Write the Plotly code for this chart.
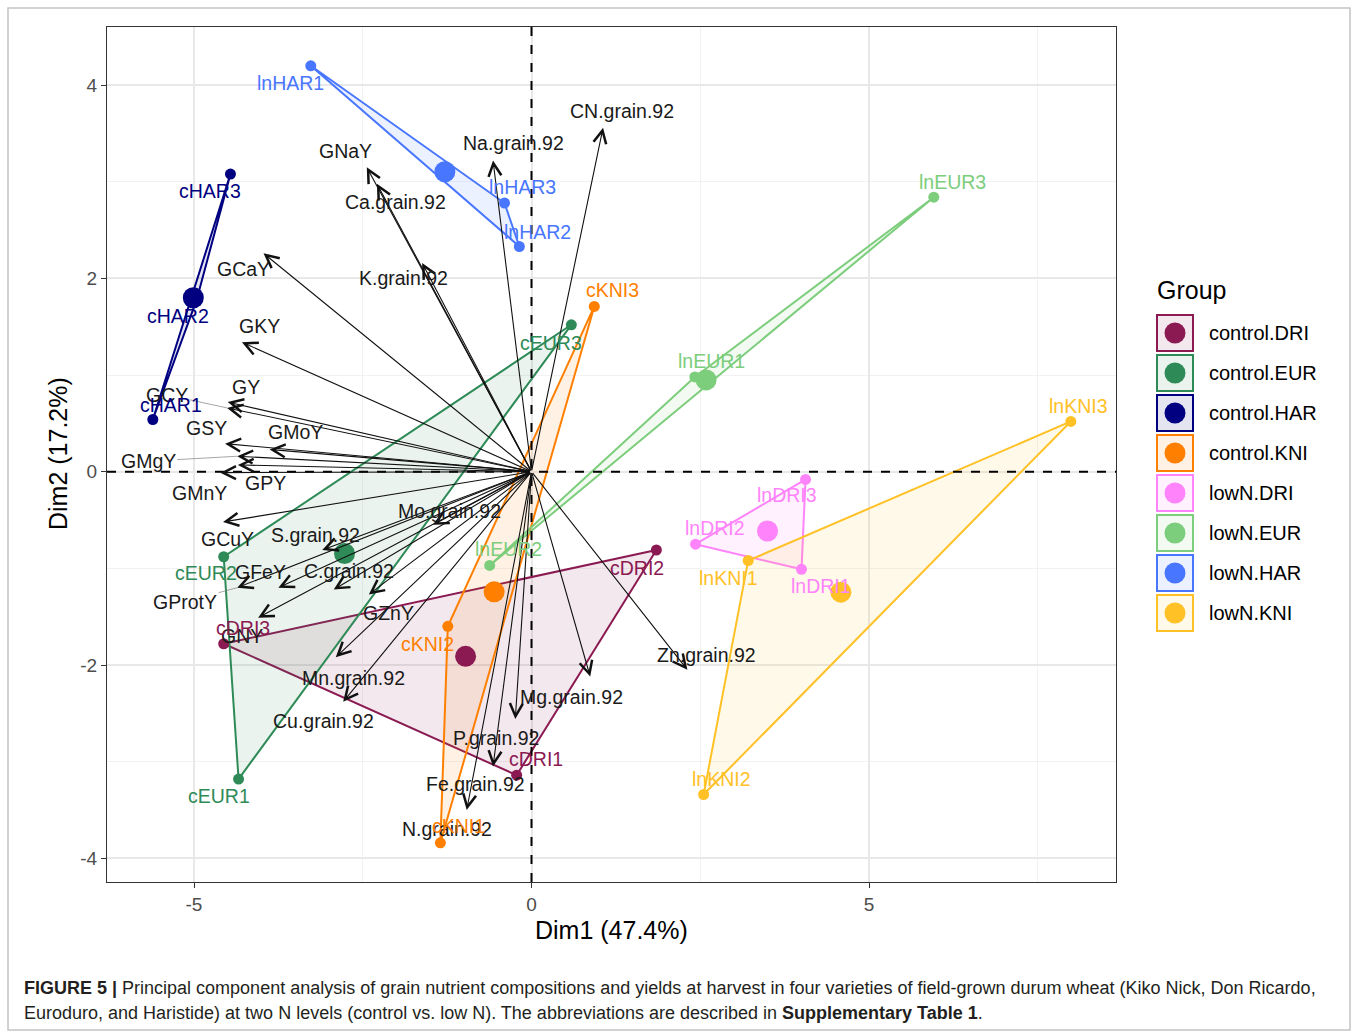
import numpy as np
import plotly.graph_objects as go

# ---- groups and colours ----
groups = ["control.DRI", "control.EUR", "control.HAR", "control.KNI",
          "lowN.DRI", "lowN.EUR", "lowN.HAR", "lowN.KNI"]
group_colors = ["#8B1A52", "#2E8B57", "#000080", "#FF7F00",
                "#FF83FA", "#7CCD7C", "#4876FF", "#FFC125"]

# ---- individuals (PCA scores) ----
ind_names = ["cDRI1", "cDRI2", "cDRI3", "cEUR1", "cEUR2", "cEUR3",
             "cHAR1", "cHAR2", "cHAR3", "cKNI1", "cKNI2", "cKNI3",
             "lnDRI1", "lnDRI2", "lnDRI3", "lnEUR1", "lnEUR2", "lnEUR3",
             "lnHAR1", "lnHAR2", "lnHAR3", "lnKNI1", "lnKNI2", "lnKNI3"]
ind_groups = ["control.DRI"] * 3 + ["control.EUR"] * 3 + ["control.HAR"] * 3 + ["control.KNI"] * 3 + \
             ["lowN.DRI"] * 3 + ["lowN.EUR"] * 3 + ["lowN.HAR"] * 3 + ["lowN.KNI"] * 3
ind_dim1 = [-0.22, 1.85, -4.56, -4.34, -4.56, 0.59,
            -5.61, -4.96, -4.46, -1.35, -1.24, 0.93,
            4.00, 2.43, 4.06, 2.42, -0.62, 5.96,
            -3.27, -0.18, -0.40, 3.21, 2.55, 7.99]
ind_dim2 = [-3.14, -0.81, -1.78, -3.18, -0.88, 1.52,
            0.54, 1.78, 3.08, -3.84, -1.60, 1.71,
            -1.01, -0.75, -0.08, 0.98, -0.97, 2.84,
            4.20, 2.33, 2.78, -0.92, -3.34, 0.52]
# label nudges in screen pixels (right, down)
ind_label_dx = [19, -19, 19, -20, -18, -20,
                18, -19, -20, 18, -20, 18,
                19, 19, -19, 17, 19, 19,
                -20, 18, 18, -20, 18, 8]
ind_label_dy = [-16, 18, -16, 17, 16, 18,
                -15, 16, 17, -17, 18, -16,
                17, -16, 16, -16, -16, -15,
                17, -15, -16, 17, -16, -15]

# ---- variables (PCA loadings, scaled) ----
var_names = ["CN.grain.92", "Na.grain.92", "GNaY", "Ca.grain.92", "K.grain.92",
             "GCaY", "GKY", "GY", "GCY", "GSY", "GMoY", "GMgY", "GPY", "GMnY",
             "GCuY", "S.grain.92", "Mo.grain.92", "GProtY", "GFeY", "C.grain.92",
             "GZnY", "GNY", "Mn.grain.92", "Cu.grain.92", "Mg.grain.92",
             "P.grain.92", "Fe.grain.92", "N.grain.92", "Zn.grain.92"]
var_dim1 = [1.06, -0.57, -2.44, -2.29, -1.62,
            -3.97, -4.29, -4.50, -4.51, -4.54, -3.88, -4.36, -4.35, -4.61,
            -4.57, -3.10, -1.46, -4.36, -3.75, -2.93,
            -2.41, -4.05, -2.90, -2.79, 0.87,
            -0.24, -0.57, -0.96, 2.31]
var_dim2 = [3.56, 3.22, 3.15, 2.98, 2.16,
            2.26, 1.34, 0.72, 0.66, 0.29, 0.23, 0.16, 0.07, -0.01,
            -0.52, -0.81, -0.55, -1.20, -1.20, -1.22,
            -1.27, -1.51, -1.92, -2.38, -2.12,
            -2.56, -3.05, -3.50, -2.05]
var_label_dx = [19, 20, -21, 19, -19,
                -20, 18, 18, -60, -19, 26, -89, 28, -21,
                4, -7, 17, -52, -18, 15,
                20, -16, 18, -20, -19,
                -19, -18, -20, 19]
var_label_dy = [-17, -17, -16, 18, 15,
                16, -16, -15, -13, -16, -17, 5, 18, 20,
                17, -15, -14, 14, -16, -19,
                19, 18, 21, 19, 20,
                19, 18, 19, -15]
leader_vars = ["GCY", "GMgY", "GProtY"]

axis_x_title = "Dim1 (47.4%)"
axis_y_title = "Dim2 (17.2%)"
x_ticks = [-5, 0, 5]
y_ticks = [-4, -2, 0, 2, 4]

FONT = "Liberation Sans, Arial, sans-serif"
LABEL_SIZE = 19.5

# plot panel geometry in page pixels
PX_L, PX_R, PX_T, PX_B = 107, 1116, 27, 882
W, H = 1358, 1033


def px2x(p):
    return (p - PX_L) / (PX_R - PX_L)


def py2y(p):
    return (PX_B - p) / (PX_B - PX_T)


def rgba(hex_color, a):
    h = hex_color.lstrip("#")
    r, g, b = int(h[0:2], 16), int(h[2:4], 16), int(h[4:6], 16)
    return f"rgba({r},{g},{b},{a})"


color_of = dict(zip(groups, group_colors))
d1 = np.array(ind_dim1)
d2 = np.array(ind_dim2)
garr = np.array(ind_groups)

fig = go.Figure()

# convex hulls (three points per group -> triangles)
for g in groups:
    m = garr == g
    xs = list(d1[m]) + [d1[m][0]]
    ys = list(d2[m]) + [d2[m][0]]
    fig.add_trace(go.Scatter(x=xs, y=ys, mode="lines", fill="toself",
                             fillcolor=rgba(color_of[g], 0.1),
                             line=dict(color=color_of[g], width=2),
                             hoverinfo="skip", showlegend=False))

# individual points
for g in groups:
    m = garr == g
    fig.add_trace(go.Scatter(x=d1[m], y=d2[m], mode="markers",
                             marker=dict(size=11, color=color_of[g]),
                             showlegend=False, hoverinfo="skip"))

# group centroids
for g in groups:
    m = garr == g
    fig.add_trace(go.Scatter(x=[d1[m].mean()], y=[d2[m].mean()], mode="markers",
                             marker=dict(size=21, color=color_of[g]),
                             showlegend=False, hoverinfo="skip"))

annotations = []

# variable arrows from the origin
for name, vx, vy in zip(var_names, var_dim1, var_dim2):
    annotations.append(dict(x=vx, y=vy, ax=0, ay=0, xref="x", yref="y",
                            axref="x", ayref="y", text="", showarrow=True,
                            arrowhead=5, arrowsize=2.3, arrowwidth=1.1,
                            arrowcolor="#111111", standoff=0))

# variable labels
for name, vx, vy, dx, dy in zip(var_names, var_dim1, var_dim2, var_label_dx, var_label_dy):
    if name in leader_vars:
        annotations.append(dict(x=vx, y=vy, xref="x", yref="y", text=name,
                                showarrow=True, arrowhead=0, arrowwidth=0.7,
                                arrowcolor="#808080", ax=dx, ay=dy,
                                font=dict(family=FONT, size=LABEL_SIZE, color="#1a1a1a")))
    else:
        annotations.append(dict(x=vx, y=vy, xref="x", yref="y", text=name,
                                showarrow=False, xshift=dx, yshift=-dy,
                                xanchor="center", yanchor="middle",
                                font=dict(family=FONT, size=LABEL_SIZE, color="#1a1a1a")))

# individual labels
for name, g, x, y, dx, dy in zip(ind_names, ind_groups, ind_dim1, ind_dim2,
                                 ind_label_dx, ind_label_dy):
    annotations.append(dict(x=x, y=y, xref="x", yref="y", text=name,
                            showarrow=False, xshift=dx, yshift=-dy,
                            xanchor="center", yanchor="middle",
                            font=dict(family=FONT, size=LABEL_SIZE, color=color_of[g])))

# axis titles
annotations.append(dict(x=px2x(611), y=py2y(930), xref="paper", yref="paper",
                        text=axis_x_title, showarrow=False,
                        xanchor="center", yanchor="middle",
                        font=dict(family=FONT, size=25, color="black")))
annotations.append(dict(x=px2x(58), y=py2y(454), xref="paper", yref="paper",
                        text=axis_y_title, showarrow=False, textangle=-90,
                        xanchor="center", yanchor="middle",
                        font=dict(family=FONT, size=25, color="black")))

# legend (boxed keys)
shapes = []
annotations.append(dict(x=px2x(1155), y=py2y(290), xref="paper", yref="paper",
                        text="Group", showarrow=False, xanchor="left", yanchor="middle",
                        font=dict(family=FONT, size=25, color="black")))
for i, g in enumerate(groups):
    cy = 333 + 40 * i
    shapes.append(dict(type="rect", xref="paper", yref="paper",
                       x0=px2x(1157), x1=px2x(1193), y0=py2y(cy + 18), y1=py2y(cy - 18),
                       line=dict(color=color_of[g], width=2),
                       fillcolor=rgba(color_of[g], 0.1)))
    shapes.append(dict(type="circle", xref="paper", yref="paper",
                       x0=px2x(1175 - 10.5), x1=px2x(1175 + 10.5),
                       y0=py2y(cy + 10.5), y1=py2y(cy - 10.5),
                       line=dict(width=0), fillcolor=color_of[g]))
    annotations.append(dict(x=px2x(1207), y=py2y(cy), xref="paper", yref="paper",
                            text=g, showarrow=False, xanchor="left", yanchor="middle",
                            font=dict(family=FONT, size=20, color="black")))

# reference lines at the origin
shapes.append(dict(type="line", xref="x", yref="paper", x0=0, x1=0, y0=0, y1=1,
                   line=dict(color="black", width=2, dash="dash"), layer="above"))
shapes.append(dict(type="line", xref="paper", yref="y", x0=0, x1=1, y0=0, y1=0,
                   line=dict(color="black", width=2, dash="dash"), layer="above"))

# outer figure frame
shapes.append(dict(type="rect", xref="paper", yref="paper",
                   x0=px2x(8), x1=px2x(1350), y0=py2y(1030), y1=py2y(8),
                   line=dict(color="#c4c4c4", width=1.5), fillcolor="rgba(0,0,0,0)"))

# caption
annotations.append(dict(x=px2x(22), y=py2y(988), xref="paper", yref="paper",
                        xanchor="left", yanchor="middle", showarrow=False,
                        text="<b>FIGURE 5 |</b> Principal component analysis of grain nutrient compositions and yields at harvest in four varieties of field-grown durum wheat (Kiko Nick, Don Ricardo,",
                        font=dict(family=FONT, size=18, color="#231f20")))
annotations.append(dict(x=px2x(22), y=py2y(1013), xref="paper", yref="paper",
                        xanchor="left", yanchor="middle", showarrow=False,
                        text="Euroduro, and Haristide) at two N levels (control vs. low N). The abbreviations are described in <b>Supplementary Table 1</b>.",
                        font=dict(family=FONT, size=18, color="#231f20")))

x_range = [(PX_L - 531.5) / 67.5, (PX_R - 531.5) / 67.5]
y_range = [(471.7 - PX_B) / 96.65, (471.7 - PX_T) / 96.65]

axis_common = dict(showline=True, linecolor="#333333", linewidth=1, mirror=True,
                   ticks="outside", ticklen=5, tickcolor="#333333", tickwidth=1,
                   tickfont=dict(family=FONT, size=19, color="#4D4D4D"),
                   showgrid=True, gridcolor="#E8E8E8", gridwidth=1.5,
                   zeroline=False)

fig.update_layout(
    width=W, height=H,
    margin=dict(l=PX_L, r=W - PX_R, t=PX_T, b=H - PX_B),
    paper_bgcolor="white", plot_bgcolor="white",
    showlegend=False,
    xaxis=dict(range=x_range, tickvals=x_ticks, ticktext=[str(v) for v in x_ticks],
               minor=dict(dtick=2.5, tick0=0, showgrid=True, gridcolor="#F2F2F2", gridwidth=1, ticks=""),
               **axis_common),
    yaxis=dict(range=y_range, tickvals=y_ticks, ticktext=[str(v) for v in y_ticks],
               minor=dict(dtick=1, tick0=0, showgrid=True, gridcolor="#F2F2F2", gridwidth=1, ticks=""),
               **axis_common),
    annotations=annotations,
    shapes=shapes,
)

fig.write_html("out.html")
